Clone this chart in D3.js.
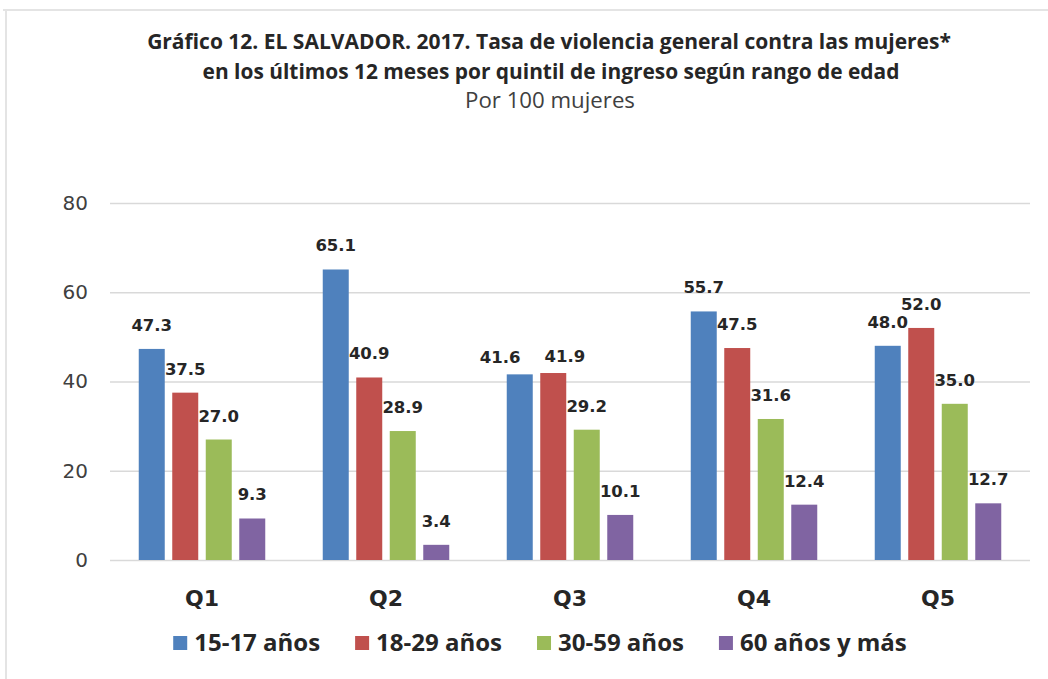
<!DOCTYPE html>
<html>
<head>
<meta charset="utf-8">
<script src="https://cdn.jsdelivr.net/npm/d3@7"></script>
<style>
  html, body { margin: 0; padding: 0; background: #ffffff; }
  svg { display: block; }
</style>
</head>
<body>
<svg id="chart" width="1048" height="679"></svg>
<script>
// ---------- data ----------
const titleLines = [
  "Gráfico 12. EL SALVADOR. 2017. Tasa de violencia general contra las mujeres*",
  "en los últimos 12 meses por quintil de ingreso según rango de edad"
];
const subtitle = "Por 100 mujeres";
const categories = ["Q1", "Q2", "Q3", "Q4", "Q5"];
const seriesNames = ["15-17 años", "18-29 años", "30-59 años", "60 años y más"];
const values15_17 = [47.3, 65.1, 41.6, 55.7, 48.0];
const values18_29 = [37.5, 40.9, 41.9, 47.5, 52.0];
const values30_59 = [27.0, 28.9, 29.2, 31.6, 35.0];
const values60plus = [9.3, 3.4, 10.1, 12.4, 12.7];
const yTicks = [0, 20, 40, 60, 80];
const colors = ["#4f81bd", "#c0504d", "#9bbb59", "#8064a2"];

const seriesValues = [values15_17, values18_29, values30_59, values60plus];

// ---------- layout ----------
const svg = d3.select("#chart");
const W = 1048, H = 679;
const plot = { left: 110, right: 1030, top: 203, bottom: 560 };

// faint frame (top and left edges as in the reference)
svg.append("line").attr("x1", 3).attr("x2", W).attr("y1", 10).attr("y2", 10)
  .attr("stroke", "#e4e4e4").attr("stroke-width", 2);
svg.append("line").attr("x1", 6).attr("x2", 6).attr("y1", 10).attr("y2", H)
  .attr("stroke", "#e4e4e4").attr("stroke-width", 2);

// ---------- scales ----------
const y = d3.scaleLinear().domain([0, 80]).range([plot.bottom, plot.top]);
const x0 = d3.scaleBand().domain(categories).range([plot.left, plot.right])
  .paddingInner(0).paddingOuter(0);
const x1 = d3.scaleBand().domain(seriesNames).range([0, x0.bandwidth()])
  .paddingInner(0.224).paddingOuter(0.858);
const color = d3.scaleOrdinal().domain(seriesNames).range(colors);

// ---------- title ----------
function fitText(sel, target) {
  const w = sel.node().getComputedTextLength();
  const fs = parseFloat(sel.attr("font-size"));
  sel.attr("font-size", (fs * target / w).toFixed(2));
}
const cx = 549;
const t1 = svg.append("text").attr("x", cx).attr("y", 49).attr("text-anchor", "middle")
  .attr("font-family", "'Open Sans', sans-serif").attr("font-weight", "bold")
  .attr("font-size", 19).attr("fill", "#262626").text(titleLines[0]);
fitText(t1, 804);
const t2 = svg.append("text").attr("x", cx + 2).attr("y", 79).attr("text-anchor", "middle")
  .attr("font-family", "'Open Sans', sans-serif").attr("font-weight", "bold")
  .attr("font-size", 19).attr("fill", "#262626").text(titleLines[1]);
fitText(t2, 697);
const t3 = svg.append("text").attr("x", cx + 1).attr("y", 108).attr("text-anchor", "middle")
  .attr("font-family", "'Open Sans', sans-serif")
  .attr("font-size", 18).attr("fill", "#404040").text(subtitle);
fitText(t3, 170);

// ---------- grid + y axis ----------
const yAxis = d3.axisLeft(y).tickValues(yTicks).tickSize(-(plot.right - plot.left))
  .tickPadding(22).tickFormat(d3.format("d"));
const gy = svg.append("g").attr("transform", `translate(${plot.left},0)`).call(yAxis);
gy.select(".domain").remove();
gy.selectAll(".tick line").attr("stroke", "#d9d9d9").attr("stroke-width", 1.5);
gy.selectAll(".tick text").attr("font-family", "'DejaVu Sans', sans-serif")
  .attr("font-size", 20).attr("fill", "#404040");

// ---------- bars ----------
const rows = categories.map((c, i) => ({
  cat: c,
  items: seriesNames.map((s, j) => ({ cat: c, series: s, value: seriesValues[j][i] }))
}));

const groups = svg.append("g").selectAll("g").data(rows).join("g")
  .attr("transform", d => `translate(${x0(d.cat)},0)`);

groups.selectAll("rect").data(d => d.items).join("rect")
  .attr("x", d => x1(d.series))
  .attr("width", x1.bandwidth())
  .attr("y", d => y(d.value))
  .attr("height", d => y(0) - y(d.value))
  .attr("fill", d => color(d.series));

// ---------- value labels ----------
const labels = groups.selectAll("text.val").data(d => d.items).join("text")
  .attr("class", "val")
  .attr("x", d => x1(d.series) + x1.bandwidth() / 2)
  .attr("y", d => y(d.value) - 18)
  .attr("text-anchor", "middle")
  .attr("font-family", "'DejaVu Sans', sans-serif").attr("font-weight", "bold")
  .attr("font-size", 16.5).attr("fill", "#262626")
  .text(d => d3.format(".1f")(d.value));

// simple collision avoidance between neighbouring labels in a group
groups.each(function () {
  const ts = d3.select(this).selectAll("text.val").nodes();
  for (let k = 0; k < ts.length - 1; k++) {
    const a = ts[k], b = ts[k + 1];
    const ay = +a.getAttribute("y"), by = +b.getAttribute("y");
    if (Math.abs(ay - by) > 16) continue;
    const ax = +a.getAttribute("x"), bx = +b.getAttribute("x");
    const need = a.getComputedTextLength() / 2 + b.getComputedTextLength() / 2 + 24;
    const gap = bx - ax;
    if (gap < need) {
      const push = need - gap;
      a.setAttribute("x", ax - push * 0.63);
      b.setAttribute("x", bx + push * 0.37);
      a.setAttribute("y", ay + 7);
      b.setAttribute("y", by + 7);
    }
  }
});

// ---------- x axis labels ----------
const xAxis = d3.axisBottom(x0).tickSize(0).tickPadding(30);
const gx = svg.append("g").attr("transform", `translate(0,${plot.bottom})`).call(xAxis);
gx.select(".domain").remove();
gx.selectAll(".tick text").attr("font-family", "'DejaVu Sans', sans-serif")
  .attr("font-weight", "bold").attr("font-size", 22).attr("fill", "#262626")
  .attr("dy", "0.71em");

// ---------- legend ----------
const legend = svg.append("g");
let lx = 0;
seriesNames.forEach((s, i) => {
  const g = legend.append("g");
  g.append("rect").attr("x", 0).attr("y", -7).attr("width", 14).attr("height", 14)
    .attr("fill", color(s));
  const t = g.append("text").attr("x", 21).attr("y", 8)
    .attr("font-family", "'Open Sans', sans-serif").attr("font-weight", "bold")
    .attr("font-size", 24).attr("fill", "#262626").text(s);
  g.attr("transform", `translate(${lx},0)`);
  lx += 21 + t.node().getComputedTextLength() + 35;
});
const legW = lx - 35;
legend.attr("transform", `translate(${540 - legW / 2},643)`);
</script>
</body>
</html>
